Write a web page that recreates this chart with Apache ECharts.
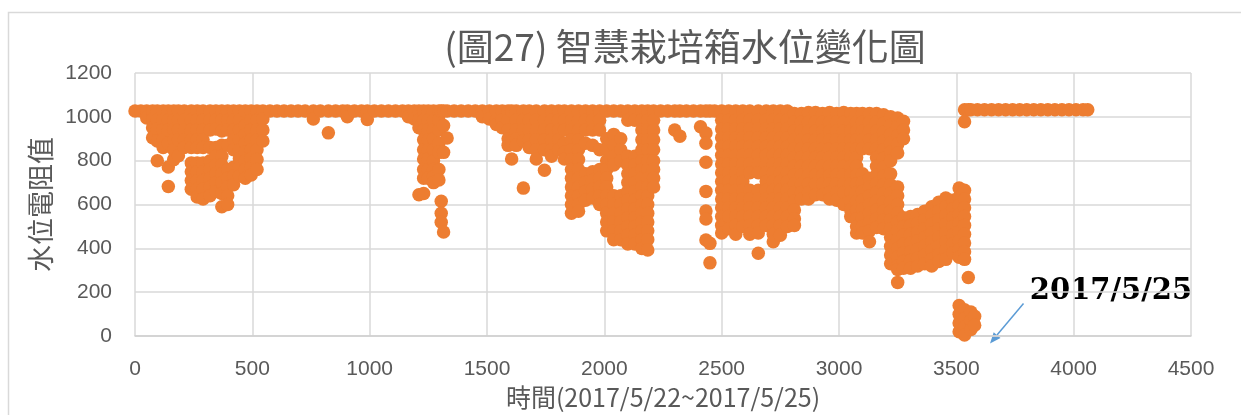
<!DOCTYPE html>
<html>
<head>
<meta charset="utf-8">
<script src="https://cdn.jsdelivr.net/npm/echarts@6/dist/echarts.min.js"></script>
<style>
  html, body { margin: 0; padding: 0; background: #fff; }
  #chart { width: 1241px; height: 415px; }
</style>
</head>
<body>
<div id="chart"></div>
<script>
// each row: [time index, readings seen around that time...]
const seg1 = [
  [0, 1027], [25, 1027], [50, 1027, 995], [75, 1027, 990, 950, 905],
  [95, 1027, 985, 945, 890, 800], [120, 1027, 985, 940, 895, 860],
  [142, 1027, 985, 940, 880, 771, 682], [165, 1027, 985, 940, 895, 850, 805],
  [185, 1027, 985, 940, 895, 823], [210, 1027, 985, 940, 895, 860],
  [240, 1027, 985, 940, 895, 860, 790, 750, 710, 670],
  [265, 1027, 985, 940, 895, 860, 790, 750, 710, 670, 635],
  [290, 1027, 985, 940, 895, 860, 790, 750, 710, 670, 625],
  [320, 1027, 985, 940, 860, 800, 760, 720, 680, 640],
  [345, 1027, 985, 945, 860, 820, 780, 740, 700, 660],
  [370, 1027, 985, 935, 870, 820, 780, 740, 700, 650, 590],
  [395, 1027, 985, 940, 870, 760, 720, 680, 640, 600],
  [420, 1027, 985, 940, 895, 850, 770, 730, 690],
  [445, 1027, 985, 940, 895, 850, 810, 770, 730],
  [470, 1027, 960, 920, 880, 840, 800, 760, 720],
  [495, 1027, 985, 940, 895, 850, 810, 770, 735],
  [520, 1027, 985, 940, 895, 850, 805, 760],
  [545, 1027, 990, 940, 890]
];
const seg2 = [
  [575, 1027], [605, 1027], [635, 1027], [665, 1027], [695, 1027], [725, 1027],
  [760, 1027, 990], [790, 1027], [824, 1027, 927], [855, 1027], [885, 1027],
  [905, 1027, 1000], [935, 1027], [965, 1027], [990, 1027, 988], [1020, 1027],
  [1050, 1027], [1080, 1027], [1110, 1027], [1140, 1027], [1165, 1027, 1000]
];
const seg3 = [
  [1190, 1027, 990], [1210, 1027, 985, 950, 645],
  [1230, 1027, 985, 940, 895, 850, 808, 760, 720, 650],
  [1250, 1027, 985, 940, 895, 850, 808, 760, 720],
  [1272, 1027, 985, 940, 900, 850, 800, 760, 727, 700],
  [1295, 1027, 985, 940, 880, 838, 760, 712],
  [1305, 1027, 615, 560, 519], [1315, 1027, 960, 838, 475], [1330, 1027, 904],
  [1360, 1027], [1390, 1027], [1420, 1027], [1450, 1027]
];
const seg4 = [
  [1480, 1027, 1000], [1510, 1027, 990], [1540, 1027, 985, 965], [1565, 1027, 985, 950],
  [1590, 1027, 985, 940, 900, 870], [1605, 1027, 890, 808],
  [1625, 1027, 985, 940, 900, 870], [1655, 1027, 985, 940, 890, 675],
  [1680, 1027, 985, 940, 895, 860], [1710, 1027, 985, 940, 895, 850, 808],
  [1745, 1027, 985, 940, 895, 850, 756], [1775, 1027, 985, 940, 895, 850, 820],
  [1805, 1027, 985, 940, 895, 850], [1830, 1027, 985, 940, 880, 838, 808],
  [1860, 1027, 985, 940, 895, 850, 805, 760, 720, 680, 640, 600, 560],
  [1890, 1027, 985, 940, 895, 850, 805, 760, 720, 680, 640, 600, 570],
  [1920, 1027, 985, 940, 880, 740, 700, 660, 620],
  [1950, 1027, 985, 940, 870, 750, 710, 670, 630],
  [1980, 1027, 985, 940, 850, 760, 720, 680, 640, 600],
  [2010, 1027, 900, 850, 800, 760, 720, 680, 640, 600, 560, 520, 480],
  [2040, 1027, 920, 870, 820, 780, 640, 600, 560, 520, 480, 440],
  [2070, 1027, 900, 850, 800, 640, 600, 560, 520, 480, 440],
  [2100, 1027, 985, 820, 780, 740, 700, 660, 620, 580, 540, 500, 460, 420],
  [2130, 1027, 985, 820, 780, 740, 700, 660, 620, 580, 540, 500, 460, 420],
  [2160, 1027, 985, 940, 895, 850, 800, 760, 720, 680, 640, 600, 560, 520, 480, 440, 400],
  [2185, 1027, 985, 940, 895, 850, 800, 760, 720, 680, 640, 600, 560, 520, 480, 440, 393],
  [2210, 1027, 985, 940, 895, 850, 800, 760, 720, 680]
];
const seg5 = [
  [2240, 1027], [2270, 1027], [2300, 1027, 940], [2322, 1027, 912], [2350, 1027],
  [2380, 1027], [2410, 1027, 955], [2433, 1027, 926, 880, 793, 660, 571, 534, 438],
  [2450, 1027, 423, 334], [2470, 1027]
];
const seg6 = [
  [2500, 1027, 985, 945, 905, 865, 825, 785, 745, 705, 665, 625, 585, 545, 505, 470],
  [2530, 1027, 985, 945, 905, 865, 825, 785, 745, 705, 665, 625, 585, 545, 490],
  [2560, 1027, 985, 945, 905, 865, 825, 785, 745, 705, 665, 625, 585, 545, 505, 465],
  [2590, 1027, 985, 945, 905, 865, 825, 785, 745, 705, 665, 625, 585, 545, 500],
  [2620, 1027, 985, 945, 905, 865, 825, 785, 745, 665, 625, 585, 545, 505, 465],
  [2656, 1027, 985, 945, 905, 865, 825, 785, 745, 665, 625, 585, 545, 505, 470, 378],
  [2690, 1027, 985, 945, 905, 865, 825, 785, 745, 705, 665, 625, 585, 545, 505],
  [2720, 1027, 985, 945, 905, 865, 825, 785, 745, 705, 665, 625, 585, 545, 505, 465, 430],
  [2750, 1027, 985, 945, 905, 865, 825, 785, 745, 705, 665, 625, 585, 545, 505, 460],
  [2780, 1027, 985, 945, 905, 865, 825, 785, 745, 705, 665, 625, 585, 545, 500],
  [2810, 1015, 975, 935, 895, 855, 815, 775, 735, 695, 655, 615, 575, 535, 505],
  [2840, 1015, 975, 935, 895, 855, 815, 775, 735, 695, 655, 625],
  [2870, 1020, 975, 935, 895, 855, 815, 775, 735, 695, 655, 625],
  [2900, 1020, 975, 935, 895, 855, 815, 775, 735, 695, 645],
  [2930, 1015, 975, 935, 895, 855, 815, 775, 735, 695, 645],
  [2960, 1020, 975, 935, 895, 855, 815, 775, 735, 695, 655, 625],
  [2990, 1015, 975, 935, 895, 855, 815, 775, 735, 695, 655, 620],
  [3020, 1020, 975, 935, 895, 855, 815, 775, 735, 695, 655, 600],
  [3050, 1015, 975, 935, 895, 855, 815, 775, 735, 695, 655, 615, 575, 545],
  [3075, 1015, 975, 935, 895, 855, 815, 775, 735, 695, 655, 615, 575, 535, 500, 470],
  [3100, 1015, 975, 935, 895, 855, 740, 700, 660, 620, 580, 540, 500, 470],
  [3130, 1015, 975, 935, 895, 855, 720, 680, 640, 600, 560, 520, 480, 430],
  [3160, 1015, 975, 935, 895, 855, 815, 775, 735, 695, 655, 615, 575, 535, 495],
  [3190, 1010, 970, 930, 890, 850, 810, 770, 730, 690, 650, 610, 570, 530, 490],
  [3220, 1000, 960, 920, 880, 840, 800, 740, 690, 650, 610, 570, 530, 490, 450, 410, 370, 330],
  [3250, 995, 955, 915, 875, 835, 680, 640, 600, 560, 520, 480, 440, 400, 360, 320, 304, 245],
  [3275, 980, 940, 900, 540, 500, 460, 420, 380, 340, 310]
];
const seg7 = [
  [3305, 545, 505, 465, 425, 385, 345, 310],
  [3335, 555, 515, 475, 435, 395, 355, 320],
  [3365, 570, 530, 490, 450, 410, 370, 330],
  [3395, 590, 550, 510, 470, 430, 390, 350, 320],
  [3425, 610, 570, 530, 490, 450, 410, 370, 340],
  [3455, 630, 590, 550, 510, 470, 430, 390, 350],
  [3485, 620, 580, 540, 500, 460, 420, 380],
  [3512, 675, 635, 595, 555, 515, 475, 435, 395, 360, 140, 100, 60, 20],
  [3535, 1032, 978, 665, 625, 585, 545, 505, 465, 425, 385, 350, 120, 80, 40, 5],
  [3551, 1032, 267], [3562, 1032, 110, 70, 30], [3578, 90, 50]
];
const seg8 = [
  [3590, 1032], [3620, 1032], [3650, 1032], [3680, 1032], [3710, 1032], [3740, 1032],
  [3770, 1032], [3800, 1032], [3830, 1032], [3860, 1032], [3890, 1032], [3920, 1032],
  [3950, 1032], [3980, 1032], [4010, 1032], [4040, 1032], [4060, 1032]
];

const xTicks = [0, 500, 1000, 1500, 2000, 2500, 3000, 3500, 4000, 4500];
const yTicks = [0, 200, 400, 600, 800, 1000, 1200];

const points = [];
[seg1, seg2, seg3, seg4, seg5, seg6, seg7, seg8].forEach(seg => {
  seg.forEach(row => {
    row.slice(1).forEach(v => points.push([row[0], v]));
  });
});

const chart = echarts.init(document.getElementById('chart'));
const grey = '#595959';
const latin = 'Liberation Sans, Arial, sans-serif';
const cjk = '"Noto Sans CJK TC", "Noto Sans CJK SC", sans-serif';

chart.setOption({
  animation: false,
  grid: { left: 135, right: 50, top: 73, bottom: 71.5 },
  xAxis: {
    type: 'value',
    min: xTicks[0],
    max: xTicks[xTicks.length - 1],
    interval: xTicks[1] - xTicks[0],
    name: '時間(2017/5/22~2017/5/25)',
    nameLocation: 'middle',
    nameGap: 44,
    nameTextStyle: { color: grey, fontSize: 25, fontFamily: cjk },
    axisLine: { show: true, lineStyle: { color: '#d0d0d0', width: 1.5 } },
    axisTick: { show: false },
    axisLabel: { color: grey, fontSize: 21, fontFamily: latin, margin: 23, formatter: v => String(v) },
    splitLine: { show: true, lineStyle: { color: '#d9d9d9', width: 1.5 } }
  },
  yAxis: {
    type: 'value',
    min: yTicks[0],
    max: yTicks[yTicks.length - 1],
    interval: yTicks[1] - yTicks[0],
    name: '水位電阻值',
    nameLocation: 'middle',
    nameGap: 79,
    nameTextStyle: { color: grey, fontSize: 27, fontFamily: cjk },
    axisLine: { show: false },
    axisTick: { show: false },
    axisLabel: { color: grey, fontSize: 21, fontFamily: latin, margin: 23, formatter: v => String(v) },
    splitLine: { show: true, lineStyle: { color: '#d9d9d9', width: 1.5 } }
  },
  series: [{
    type: 'scatter',
    data: points,
    symbolSize: 13.5,
    itemStyle: { color: '#ED7D31', opacity: 1 },
    emphasis: { disabled: true }
  }],
  graphic: [
    {
      type: 'rect', silent: true, z: -1,
      shape: { x: 8.5, y: 12.5, width: 1400, height: 600 },
      style: { fill: 'none', stroke: '#d9d9d9', lineWidth: 1.5 }
    },
    {
      type: 'text', x: 685, y: 46.5,
      style: {
        text: '(圖27) 智慧栽培箱水位變化圖', fill: grey,
        fontSize: 37, fontFamily: cjk, align: 'center', verticalAlign: 'middle'
      }
    },
    {
      type: 'text', x: 1111, y: 291,
      style: {
        text: '2017/5/25', fill: '#000',
        fontSize: 29, fontWeight: 'bold', fontFamily: '"DejaVu Serif", serif',
        align: 'center', verticalAlign: 'middle'
      }
    },
    {
      type: 'line',
      shape: { x1: 1023.5, y1: 303.5, x2: 997, y2: 335 },
      style: { stroke: '#5B9BD5', lineWidth: 1.5 }
    },
    {
      type: 'polygon',
      shape: { points: [[990, 343.5], [1000.5, 338], [993.7, 332.2]] },
      style: { fill: '#5B9BD5' }
    }
  ]
});
</script>
</body>
</html>
